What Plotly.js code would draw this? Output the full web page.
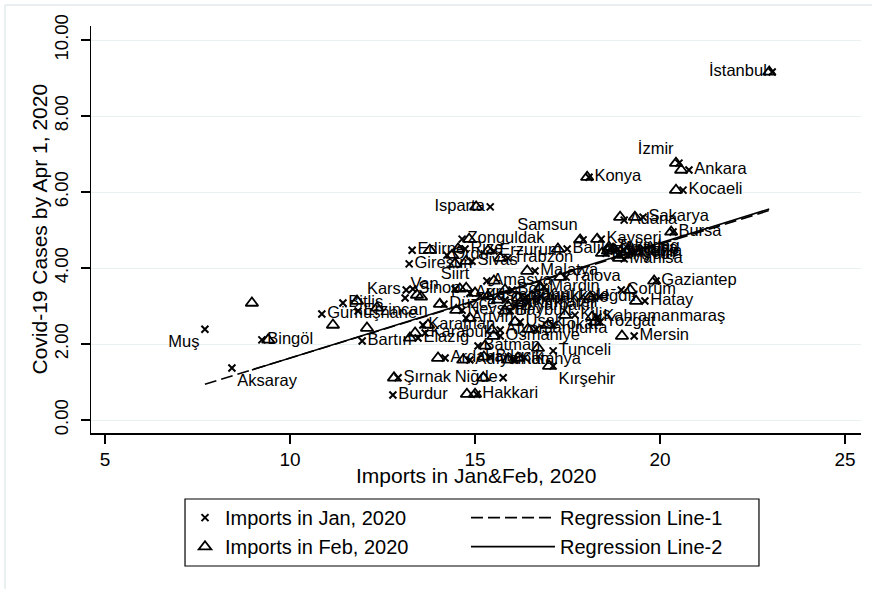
<!DOCTYPE html>
<html>
<head>
<meta charset="utf-8">
<script src="https://cdn.plot.ly/plotly-3.0.1.min.js"></script>
<style>
html,body{margin:0;padding:0;background:#fff;}
#chart{width:872px;height:589px;}
</style>
</head>
<body>
<div id="chart"></div>
<script>
// ---- data ----
const provinces = ["İstanbul","İzmir","Ankara","Konya","Kocaeli","Isparta","Sakarya","Adana","Bursa","Samsun",
"Kayseri","Tekirdağ","Balıkesir","Erzurum","Zonguldak","Edirne","Giresun","Sivas","Trabzon","Ordu",
"Rize","Kars","Van","Sinop","Siirt","Bitlis","Gümüşhane","Erzincan","Bingöl","Bartın",
"Muş","Aksaray","Malatya","Yalova","Mardin","Çorum","Iğdır","Hatay","Gaziantep","Kahramanmaraş",
"Kilis","Yozgat","Mersin","Bayburt","Nevşehir","Artvin","Karaman","Karabük","Elazığ","Batman",
"Tunceli","Kırşehir","Kütahya","Ardahan","Adıyaman","Bilecik","Şırnak","Niğde","Osmaniye","Burdur",
"Hakkari","Manisa","Denizli","Eskişehir","Antalya","Aydın","Muğla","Şanlıurfa","Afyon","Uşak",
"Tokat","Ağrı","Bolu","Çankırı","Kırklareli","Kastamonu","Kırıkkale","Çanakkale","Amasya","Diyarbakır",
"Düzce"];

const janImports = [23.03,20.51,20.78,18.08,20.62,15.41,19.54,19.03,20.35,17.92,
18.41,18.70,17.49,15.51,14.65,13.30,13.22,14.92,15.89,14.24,
14.73,13.14,13.11,13.32,14.46,11.43,10.86,11.84,9.24,11.95,
7.70,8.43,16.62,17.46,16.86,18.95,18.35,19.59,19.89,18.32,
17.70,18.38,19.30,15.95,14.65,14.76,13.59,13.65,13.46,15.08,
17.11,17.11,16.08,14.19,14.86,15.41,12.92,15.76,15.68,12.78,
15.05,19.03,18.76,18.54,18.86,19.14,19.24,16.65,15.68,16.22,
17.11,14.86,16.00,15.81,16.43,15.14,16.76,16.35,15.32,16.08,
14.16];

const janCases = [9.16,6.76,6.58,6.39,6.05,5.61,5.34,5.26,4.95,4.74,
4.76,4.55,4.50,4.45,4.76,4.47,4.11,4.18,4.26,4.34,
4.50,3.42,3.21,3.45,3.45,3.08,2.79,2.87,2.11,2.08,
2.39,1.37,3.92,3.76,3.50,3.42,3.24,3.13,3.66,2.71,
2.76,2.58,2.21,2.87,2.89,2.68,2.50,2.29,2.16,1.95,
1.82,1.42,1.58,1.63,1.58,1.66,1.11,1.11,2.21,0.66,
0.68,4.24,4.45,4.39,4.50,4.34,4.42,2.39,2.37,2.58,
2.50,3.34,3.42,3.16,3.08,3.26,3.26,3.21,3.66,3.00,
3.05];

const febImports = [22.95,20.43,20.57,18.03,20.43,15.03,19.32,18.92,20.30,17.84,
18.30,18.62,17.24,15.35,14.84,13.78,14.46,14.76,15.68,14.38,
14.54,13.43,13.54,14.76,14.59,11.81,11.16,12.35,9.41,12.08,
8.97,16.16,16.41,17.30,16.76,19.19,18.11,19.35,19.84,18.16,
17.43,18.24,18.97,15.81,14.49,14.86,13.73,13.38,13.24,15.27,
16.70,17.00,15.89,14.00,14.68,15.24,12.81,15.22,15.50,14.78,
15.00,18.89,18.59,18.43,18.73,19.00,19.08,16.43,15.46,16.08,
16.97,15.00,15.81,15.62,16.22,15.35,16.54,16.16,15.51,15.89,
14.05];

const febCases = [9.16,6.76,6.58,6.39,6.05,5.61,5.34,5.34,4.95,4.74,
4.76,4.55,4.50,4.45,4.76,4.47,4.11,4.18,4.26,4.34,
4.50,3.29,3.24,3.47,3.45,3.13,2.50,2.95,2.11,2.42,
3.08,1.63,3.92,3.76,3.50,3.42,3.24,3.13,3.66,2.71,
2.76,2.58,2.21,2.87,2.89,2.68,2.50,2.29,2.16,1.95,
1.89,1.42,1.58,1.63,1.58,1.66,1.11,1.11,2.21,0.68,
0.68,4.26,4.45,4.39,4.50,4.34,4.42,2.39,2.37,2.58,
2.50,3.34,3.42,3.16,3.08,3.26,3.26,3.21,3.66,3.00,
3.05];

// regression lines: [intercept, slope]
const reg1Coef = [-1.37, 0.300];
const reg2Coef = [-1.40, 0.303];

const xTicks = [5,10,15,20,25];
const yTicks = [0,2,4,6,8,10];

// ---- styling ----
const labelPosition = {
  "İstanbul":"middle left","İzmir":"top left","Isparta":"middle left","Samsun":"top left",
  "Kars":"middle left","Van":"top right","Siirt":"top center","Muş":"bottom left",
  "Aksaray":"bottom right","Kırşehir":"bottom right","Niğde":"middle left"
};
const textPos = provinces.map(p => labelPosition[p] || "middle right");

function regLine(coef, xs){
  const lo = Math.min(...xs), hi = Math.max(...xs);
  return {x:[lo,hi], y:[coef[0]+coef[1]*lo, coef[0]+coef[1]*hi]};
}
const r1 = regLine(reg1Coef, janImports);
const r2 = regLine(reg2Coef, febImports);

const FONT = "Liberation Sans, Arial, Helvetica, sans-serif";

const traces = [
  {type:"scatter", mode:"markers+text", name:"Imports in Jan, 2020",
   x:janImports, y:janCases, text:provinces, textposition:textPos,
   textfont:{family:FONT,size:16.5,color:"#000"},
   marker:{symbol:"x-thin", size:7, line:{width:2,color:"#000"}, color:"#000"},
   cliponaxis:false, legend:"legend"},
  {type:"scatter", mode:"markers", name:"Imports in Feb, 2020",
   x:febImports, y:febCases,
   marker:{symbol:"triangle-up-open", size:11, line:{width:1.8,color:"#000"}, color:"#000"},
   cliponaxis:false, legend:"legend"},
  {type:"scatter", mode:"lines", name:"Regression Line-1",
   x:r1.x, y:r1.y, line:{color:"#000", width:1.6, dash:"12px,5px"}, legend:"legend2"},
  {type:"scatter", mode:"lines", name:"Regression Line-2",
   x:r2.x, y:r2.y, line:{color:"#000", width:1.6}, legend:"legend2"}
];

const layout = {
  width:872, height:589,
  margin:{l:91, r:11, t:26, b:156, pad:0},
  paper_bgcolor:"#fff", plot_bgcolor:"#fff",
  font:{family:FONT, color:"#000"},
  showlegend:true,
  xaxis:{
    range:[4.622, 25.43], tickvals:xTicks, ticktext:xTicks.map(String),
    showgrid:false, zeroline:false, showline:true, linecolor:"#000", linewidth:1.5,
    ticks:"outside", ticklen:9, tickwidth:1.5, tickcolor:"#000",
    tickfont:{size:19, family:FONT}
  },
  yaxis:{
    range:[-0.342, 10.37], tickvals:yTicks, ticktext:yTicks.map(v=>v.toFixed(2)),
    showgrid:true, gridcolor:"#e9f0f2", gridwidth:1, zeroline:false,
    showline:true, linecolor:"#000", linewidth:1.5,
    ticks:"outside", ticklen:9, tickwidth:1.5, tickcolor:"#000",
    tickangle:-90, tickfont:{size:18.5, family:FONT}, ticklabelstandoff:5
  },
  annotations:[
    {text:"Imports in Jan&Feb, 2020", xref:"paper", yref:"paper", x:0.5, y:-0.1032,
     xanchor:"center", yanchor:"middle", showarrow:false, font:{size:21, family:FONT}},
    {text:"Covid-19 Cases by Apr 1, 2020", xref:"paper", yref:"paper", x:-0.0675, y:0.5,
     xanchor:"center", yanchor:"middle", textangle:-90, showarrow:false, font:{size:21, family:FONT}}
  ],
  legend:{x:0.1221, xanchor:"left", y:-0.160, yanchor:"top", orientation:"v",
    font:{size:20, family:FONT}, bgcolor:"rgba(0,0,0,0)", borderwidth:0,
    tracegroupgap:0},
  legend2:{x:0.487, xanchor:"left", y:-0.160, yanchor:"top", orientation:"v",
    font:{size:20, family:FONT}, bgcolor:"rgba(0,0,0,0)", borderwidth:0,
    itemwidth:84, tracegroupgap:0},
  shapes:[
    {type:"rect", xref:"paper", yref:"paper", x0:0.1221, x1:0.8675, y0:-0.3268, y1:-0.1622,
     line:{color:"#000", width:1.2}, fillcolor:"rgba(0,0,0,0)"},
    {type:"line", xref:"paper", yref:"paper", x0:-0.1117, x1:1.02, y0:1.0516, y1:1.0516,
     line:{color:"#e3e9eb", width:1.5}},
    {type:"line", xref:"paper", yref:"paper", x0:-0.1117, x1:-0.1117, y0:-0.3833, y1:1.0516,
     line:{color:"#e3e9eb", width:1.5}}
  ]
};

Plotly.newPlot("chart", traces, layout, {displayModeBar:false, staticPlot:true});
</script>
</body>
</html>
